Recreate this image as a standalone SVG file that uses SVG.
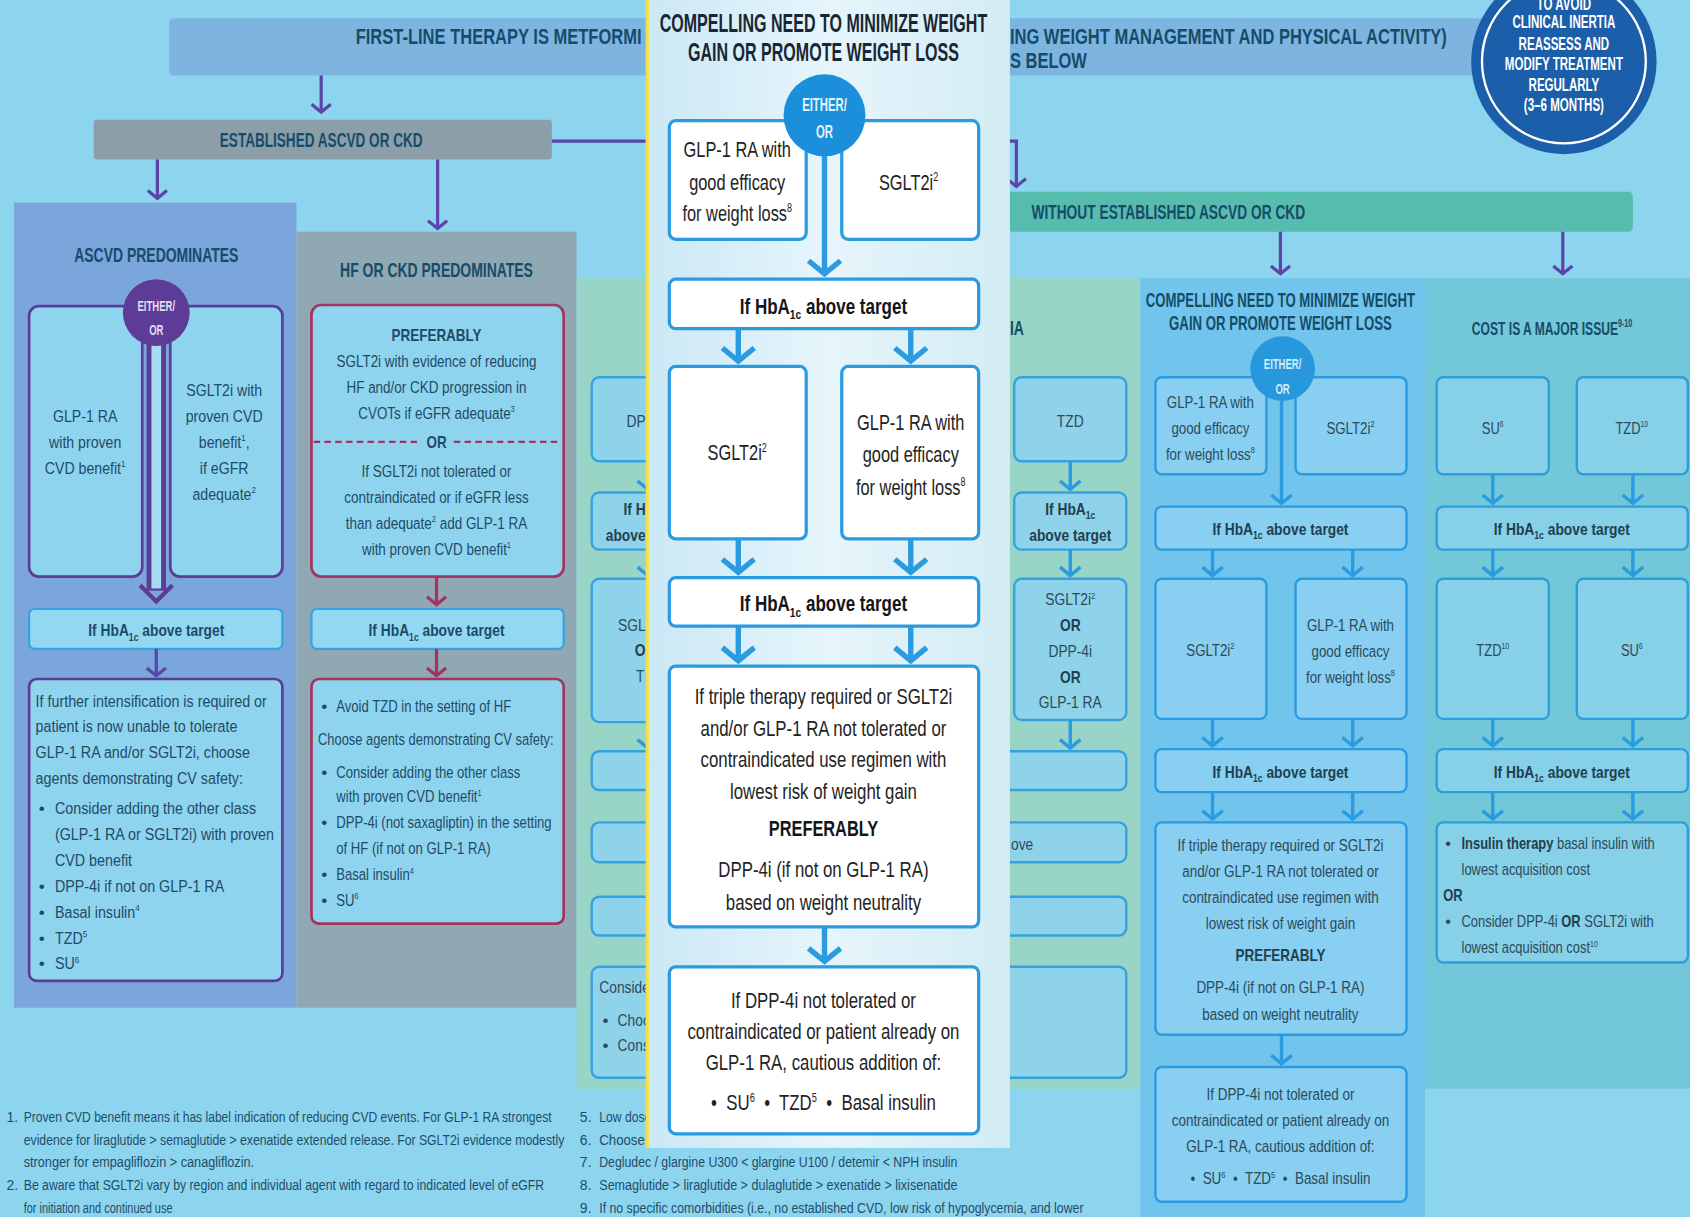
<svg xmlns="http://www.w3.org/2000/svg" width="1690" height="1217" viewBox="0 0 1690 1217">
<defs>
<style>
text{font-family:"Liberation Sans",Arial,sans-serif}
.m{text-anchor:middle}
.e{text-anchor:end}
.hd{font-weight:700;fill:#164c69;font-size:18px}
.bl{fill:#1e4b66;font-size:16px}
.bb{fill:#1e4b66;font-size:16px;font-weight:700}
.gt{fill:#2c4a5a;font-size:16px}
.gb{fill:#22404f;font-size:16px;font-weight:700}
.in{fill:#232323;font-size:20px}
.inb{fill:#161616;font-size:20px;font-weight:700}
.wt{fill:#fff;font-weight:700}
.fn{fill:#1f4d68;font-size:13px}
.pbox{fill:#8fd4ee;stroke:#5b3d99;stroke-width:2.5}
.cbox{fill:#8fd4ee;stroke:#a3345f;stroke-width:2.5}
.hb{fill:#93d8f3;stroke:#34a3e0;stroke-width:2}
.gbox{fill:#8fd3ea;stroke:#33a2df;stroke-width:2.2}
.ibox{fill:#fff;stroke:#2a9be0;stroke-width:3}
.rbox{fill:#88cff1;stroke:#2a9be0;stroke-width:2.2}
.kbox{fill:#86d0e8;stroke:#2d9fd8;stroke-width:2.2}
.cp{stroke:#5a46a8;stroke-width:3;fill:none;marker-end:url(#aP)}
.cc{stroke:#a3345f;stroke-width:3;fill:none;marker-end:url(#aC)}
.cb{stroke:#2a9be0;stroke-width:3.2;fill:none;marker-end:url(#aB)}
.ci{stroke:#2a9be0;stroke-width:5;fill:none;marker-end:url(#aB)}
</style>
<marker id="aP" viewBox="0 0 14 26" refX="11" refY="13" markerWidth="3.8" markerHeight="7" orient="auto" markerUnits="strokeWidth"><path d="M2,2 L11,13 L2,24" fill="none" stroke="#5a46a8" stroke-width="3.7"/></marker>
<marker id="aC" viewBox="0 0 14 26" refX="11" refY="13" markerWidth="3.8" markerHeight="7" orient="auto" markerUnits="strokeWidth"><path d="M2,2 L11,13 L2,24" fill="none" stroke="#a3345f" stroke-width="3.7"/></marker>
<marker id="aB" viewBox="0 0 14 26" refX="11" refY="13" markerWidth="3.8" markerHeight="7" orient="auto" markerUnits="strokeWidth"><path d="M2,2 L11,13 L2,24" fill="none" stroke="#2a9be0" stroke-width="3.7"/></marker>
<linearGradient id="ig" x1="0" x2="1" y1="0" y2="0"><stop offset="0" stop-color="#cbe8f6"/><stop offset=".5" stop-color="#e6f5fb"/><stop offset="1" stop-color="#d3ecf3"/></linearGradient>
</defs>
<rect width="1690" height="1217" fill="#8dd4ee"/>
<g transform="scale(1.077806)">

<g id="panels">
<rect x="13" y="188" width="262" height="747" fill="#7aa6dc"/>
<rect x="275" y="215" width="260" height="720" fill="#8fa8b4"/>
<rect x="535" y="258" width="523" height="752" fill="#98d5c6"/>
<rect x="1058" y="258" width="264" height="871" fill="#71c4eb"/>
<rect x="1322" y="258" width="246" height="752" fill="#72c7d9"/>
</g>

<g id="n-first-line">
<rect x="157" y="17" width="1240" height="53" rx="4" fill="#7db5e0"/>
<text class="hd" style="font-size:21px" transform="translate(330 41) scale(.73 1)">FIRST-LINE THERAPY IS METFORMI</text>
<text class="hd" style="font-size:21px" transform="translate(937 41) scale(.73 1)">ING WEIGHT MANAGEMENT AND PHYSICAL ACTIVITY)</text>
<text class="hd" style="font-size:21px" transform="translate(937 63) scale(.73 1)">S BELOW</text>
</g>

<g id="n-inertia">
<circle cx="1451" cy="57" r="86" fill="#1b5ea9"/>
<circle cx="1451" cy="57" r="76" fill="none" stroke="#fff" stroke-width="2.2"/>
<text class="wt m" style="font-size:17px" transform="translate(1451 9) scale(.63 1)">TO AVOID</text>
<text class="wt m" style="font-size:17px" transform="translate(1451 26) scale(.63 1)">CLINICAL INERTIA</text>
<text class="wt m" style="font-size:17px" transform="translate(1451 46) scale(.63 1)">REASSESS AND</text>
<text class="wt m" style="font-size:17px" transform="translate(1451 65) scale(.63 1)">MODIFY TREATMENT</text>
<text class="wt m" style="font-size:17px" transform="translate(1451 84) scale(.63 1)">REGULARLY</text>
<text class="wt m" style="font-size:17px" transform="translate(1451 103) scale(.63 1)">(3–6 MONTHS)</text>
</g>

<g id="n-established">
<rect x="87" y="111" width="425" height="37" rx="3" fill="#8c9fa9"/>
<text class="hd m" transform="translate(298 136) scale(.7 1)">ESTABLISHED ASCVD OR CKD</text>
</g>

<g id="n-without">
<rect x="900" y="178" width="615" height="37" rx="4" fill="#56bdae"/>
<text class="hd" transform="translate(957 203) scale(.71 1)">WITHOUT ESTABLISHED ASCVD OR CKD</text>
</g>

<g id="n-ascvd">
<text class="hd m" transform="translate(145 243) scale(.72 1)">ASCVD PREDOMINATES</text>
<g id="n-ascvd-glp">
<rect x="27" y="284" width="105" height="251" rx="9" class="pbox"/>
<text class="bl m" transform="translate(79 391.5) scale(.82 1)">GLP-1 RA</text>
<text class="bl m" transform="translate(79 415.5) scale(.82 1)">with proven</text>
<text class="bl m" transform="translate(79 439.5) scale(.82 1)">CVD benefit<tspan dy="-6" font-size="9">1</tspan></text>
</g>
<g id="n-ascvd-sglt">
<rect x="158" y="284" width="104" height="251" rx="9" class="pbox"/>
<text class="bl m" transform="translate(208 367.5) scale(.82 1)">SGLT2i with</text>
<text class="bl m" transform="translate(208 391.5) scale(.82 1)">proven CVD</text>
<text class="bl m" transform="translate(208 415.5) scale(.82 1)">benefit<tspan dy="-6" font-size="9">1</tspan><tspan dy="6">,</tspan></text>
<text class="bl m" transform="translate(208 439.5) scale(.82 1)">if eGFR</text>
<text class="bl m" transform="translate(208 463.5) scale(.82 1)">adequate<tspan dy="-6" font-size="9">2</tspan></text>
</g>
<g id="n-ascvd-hba">
<rect x="27" y="565" width="235" height="37" rx="5" class="hb"/>
<text class="bb m" transform="translate(145 590.5) scale(.8 1)">If HbA<tspan font-size="10" dy="4">1c</tspan><tspan dy="-4"> above target</tspan></text>
</g>
<g id="n-ascvd-next">
<rect x="27" y="630" width="235" height="280" rx="7" class="pbox"/>
<text class="bl" transform="translate(33 655.5) scale(.83 1)">If further intensification is required or</text>
<text class="bl" transform="translate(33 679.5) scale(.83 1)">patient is now unable to tolerate</text>
<text class="bl" transform="translate(33 703.5) scale(.83 1)">GLP-1 RA and/or SGLT2i, choose</text>
<text class="bl" transform="translate(33 727.5) scale(.83 1)">agents demonstrating CV safety:</text>
<text class="bl" x="36" y="755.5">•</text>
<text class="bl" transform="translate(51 755.5) scale(.83 1)">Consider adding the other class</text>
<text class="bl" transform="translate(51 779.5) scale(.83 1)">(GLP-1 RA or SGLT2i) with proven</text>
<text class="bl" transform="translate(51 803.5) scale(.83 1)">CVD benefit</text>
<text class="bl" x="36" y="827.5">•</text>
<text class="bl" transform="translate(51 827.5) scale(.83 1)">DPP-4i if not on GLP-1 RA</text>
<text class="bl" x="36" y="851.5">•</text>
<text class="bl" transform="translate(51 851.5) scale(.83 1)">Basal insulin<tspan dy="-6" font-size="9">4</tspan></text>
<text class="bl" x="36" y="875.5">•</text>
<text class="bl" transform="translate(51 875.5) scale(.83 1)">TZD<tspan dy="-6" font-size="9">5</tspan></text>
<text class="bl" x="36" y="899.5">•</text>
<text class="bl" transform="translate(51 899.5) scale(.83 1)">SU<tspan dy="-6" font-size="9">6</tspan></text>
</g>
</g>

<g id="n-hf">
<text class="hd m" transform="translate(405 257) scale(.72 1)">HF OR CKD PREDOMINATES</text>
<g id="n-hf-pref">
<rect x="289" y="283" width="234" height="252" rx="9" class="cbox"/>
<text class="bb m" transform="translate(405 316.5) scale(.78 1)">PREFERABLY</text>
<text class="bl m" transform="translate(405 340.5) scale(.78 1)">SGLT2i with evidence of reducing</text>
<text class="bl m" transform="translate(405 364.5) scale(.78 1)">HF and/or CKD progression in</text>
<text class="bl m" transform="translate(405 388.5) scale(.78 1)">CVOTs if eGFR adequate<tspan dy="-6" font-size="9">3</tspan></text>
<path d="M291 410H389M421 410H521" stroke="#a3345f" stroke-width="2" stroke-dasharray="6 4" fill="none"/>
<text class="bb m" transform="translate(405 415.5) scale(.78 1)">OR</text>
<text class="bl m" transform="translate(405 442.5) scale(.78 1)">If SGLT2i not tolerated or</text>
<text class="bl m" transform="translate(405 466.5) scale(.78 1)">contraindicated or if eGFR less</text>
<text class="bl m" transform="translate(405 490.5) scale(.78 1)">than adequate<tspan dy="-6" font-size="9">2</tspan><tspan dy="6"> add GLP-1 RA</tspan></text>
<text class="bl m" transform="translate(405 514.5) scale(.78 1)">with proven CVD benefit<tspan dy="-6" font-size="9">1</tspan></text>
</g>
<g id="n-hf-hba">
<rect x="289" y="565" width="234" height="37" rx="5" class="hb"/>
<text class="bb m" transform="translate(405 590.5) scale(.8 1)">If HbA<tspan font-size="10" dy="4">1c</tspan><tspan dy="-4"> above target</tspan></text>
</g>
<g id="n-hf-next">
<rect x="289" y="630" width="234" height="227" rx="7" class="cbox"/>
<text class="bl" x="298" y="660.5">•</text>
<text class="bl" transform="translate(312 660.5) scale(.76 1)">Avoid TZD in the setting of HF</text>
<text class="bl" transform="translate(295 691.5) scale(.75 1)">Choose agents demonstrating CV safety:</text>
<text class="bl" x="298" y="721.5">•</text>
<text class="bl" transform="translate(312 721.5) scale(.76 1)">Consider adding the other class</text>
<text class="bl" transform="translate(312 744.5) scale(.76 1)">with proven CVD benefit<tspan dy="-6" font-size="9">1</tspan></text>
<text class="bl" x="298" y="768.5">•</text>
<text class="bl" transform="translate(312 768.5) scale(.76 1)">DPP-4i (not saxagliptin) in the setting</text>
<text class="bl" transform="translate(312 792.5) scale(.76 1)">of HF (if not on GLP-1 RA)</text>
<text class="bl" x="298" y="816.5">•</text>
<text class="bl" transform="translate(312 816.5) scale(.76 1)">Basal insulin<tspan dy="-6" font-size="9">4</tspan></text>
<text class="bl" x="298" y="840.5">•</text>
<text class="bl" transform="translate(312 840.5) scale(.76 1)">SU<tspan dy="-6" font-size="9">6</tspan></text>
</g>
</g>

<g id="n-hypo">
<text class="hd" transform="translate(937 311) scale(.72 1)">IA</text>
<g id="n-hypo-dpp"><rect x="549" y="350" width="104" height="78" rx="7" class="gbox"/><text class="gt e" transform="translate(599 396.5) scale(.8 1)">DP</text></g>
<g id="n-hypo-hba1"><rect x="549" y="457" width="104" height="53" rx="7" class="gbox"/><text class="gb e" transform="translate(599 477.5) scale(.8 1)">If H</text><text class="gb e" transform="translate(599 501.5) scale(.8 1)">above</text></g>
<g id="n-hypo-sglt"><rect x="549" y="537" width="104" height="133" rx="7" class="gbox"/><text class="gt e" transform="translate(599 585.5) scale(.8 1)">SGL</text><text class="gb e" transform="translate(599 608.5) scale(.8 1)">O</text><text class="gt e" transform="translate(598 632.5) scale(.8 1)">T</text></g>
<g id="n-hypo-tzd"><rect x="941" y="350" width="104" height="78" rx="7" class="gbox"/><text class="gt m" transform="translate(993 396.5) scale(.8 1)">TZD</text></g>
<g id="n-hypo-hba2"><rect x="941" y="457" width="104" height="53" rx="7" class="gbox"/><text class="gb m" transform="translate(993 477.5) scale(.8 1)">If HbA<tspan font-size="10" dy="4">1c</tspan></text><text class="gb m" transform="translate(993 501.5) scale(.8 1)">above target</text></g>
<g id="n-hypo-opts"><rect x="941" y="537" width="104" height="131" rx="7" class="gbox"/>
<text class="gt m" transform="translate(993 561.5) scale(.8 1)">SGLT2i<tspan dy="-6" font-size="9">2</tspan></text>
<text class="gb m" transform="translate(993 585.5) scale(.8 1)">OR</text>
<text class="gt m" transform="translate(993 609.5) scale(.8 1)">DPP-4i</text>
<text class="gb m" transform="translate(993 633.5) scale(.8 1)">OR</text>
<text class="gt m" transform="translate(993 656.5) scale(.8 1)">GLP-1 RA</text></g>
<g id="n-hypo-w1"><rect x="549" y="697" width="496" height="36" rx="7" class="gbox"/></g>
<g id="n-hypo-w2"><rect x="549" y="763" width="496" height="37" rx="7" class="gbox"/><text class="gt" transform="translate(938 788.5) scale(.8 1)">ove</text></g>
<g id="n-hypo-w3"><rect x="549" y="832" width="496" height="36" rx="7" class="gbox"/></g>
<g id="n-hypo-w4"><rect x="549" y="897" width="496" height="103" rx="7" class="gbox"/>
<text class="gt" transform="translate(556 921.5) scale(.8 1)">Conside</text>
<text class="gt" x="559" y="951.5">•</text><text class="gt" transform="translate(573 951.5) scale(.8 1)">Choo</text>
<text class="gt" x="559" y="975.5">•</text><text class="gt" transform="translate(573 975.5) scale(.8 1)">Cons</text></g>
</g>

<g id="n-weight">
<text class="hd m" transform="translate(1188 284.5) scale(.68 1)">COMPELLING NEED TO MINIMIZE WEIGHT</text>
<text class="hd m" transform="translate(1188 306.5) scale(.68 1)">GAIN OR PROMOTE WEIGHT LOSS</text>
<g id="n-w-glp"><rect x="1072" y="350" width="103" height="90" rx="6" class="rbox"/>
<text class="gt m" transform="translate(1123 378.5) scale(.77 1)">GLP-1 RA with</text>
<text class="gt m" transform="translate(1123 402.5) scale(.77 1)">good efficacy</text>
<text class="gt m" transform="translate(1123 426.5) scale(.77 1)">for weight loss<tspan dy="-6" font-size="9">8</tspan></text></g>
<g id="n-w-sglt"><rect x="1202" y="350" width="103" height="90" rx="6" class="rbox"/>
<text class="gt m" transform="translate(1253 402.5) scale(.77 1)">SGLT2i<tspan dy="-6" font-size="9">2</tspan></text></g>
<g id="n-w-hba1"><rect x="1072" y="470" width="233" height="40" rx="6" class="rbox"/>
<text class="gb m" transform="translate(1188 496.5) scale(.8 1)">If HbA<tspan font-size="10" dy="4">1c</tspan><tspan dy="-4"> above target</tspan></text></g>
<g id="n-w-sglt2"><rect x="1072" y="537" width="103" height="130" rx="6" class="rbox"/>
<text class="gt m" transform="translate(1123 608.5) scale(.77 1)">SGLT2i<tspan dy="-6" font-size="9">2</tspan></text></g>
<g id="n-w-glp2"><rect x="1202" y="537" width="103" height="130" rx="6" class="rbox"/>
<text class="gt m" transform="translate(1253 585.5) scale(.77 1)">GLP-1 RA with</text>
<text class="gt m" transform="translate(1253 609.5) scale(.77 1)">good efficacy</text>
<text class="gt m" transform="translate(1253 633.5) scale(.77 1)">for weight loss<tspan dy="-6" font-size="9">8</tspan></text></g>
<g id="n-w-hba2"><rect x="1072" y="695" width="233" height="40" rx="6" class="rbox"/>
<text class="gb m" transform="translate(1188 721.5) scale(.8 1)">If HbA<tspan font-size="10" dy="4">1c</tspan><tspan dy="-4"> above target</tspan></text></g>
<g id="n-w-triple"><rect x="1072" y="763" width="233" height="197" rx="6" class="rbox"/>
<text class="gt m" transform="translate(1188 789.5) scale(.78 1)">If triple therapy required or SGLT2i</text>
<text class="gt m" transform="translate(1188 813.5) scale(.78 1)">and/or GLP-1 RA not tolerated or</text>
<text class="gt m" transform="translate(1188 837.5) scale(.78 1)">contraindicated use regimen with</text>
<text class="gt m" transform="translate(1188 861.5) scale(.78 1)">lowest risk of weight gain</text>
<text class="gb m" transform="translate(1188 891.5) scale(.78 1)">PREFERABLY</text>
<text class="gt m" transform="translate(1188 921.5) scale(.78 1)">DPP-4i (if not on GLP-1 RA)</text>
<text class="gt m" transform="translate(1188 946.5) scale(.78 1)">based on weight neutrality</text></g>
<g id="n-w-dpp"><rect x="1072" y="990" width="233" height="125" rx="6" class="rbox"/>
<text class="gt m" transform="translate(1188 1020.5) scale(.78 1)">If DPP-4i not tolerated or</text>
<text class="gt m" transform="translate(1188 1044.5) scale(.78 1)">contraindicated or patient already on</text>
<text class="gt m" transform="translate(1188 1068.5) scale(.78 1)">GLP-1 RA, cautious addition of:</text>
<text class="gt m" xml:space="preserve" transform="translate(1188 1098.5) scale(.78 1)">•  SU<tspan dy="-6" font-size="9">6</tspan><tspan dy="6">  •  TZD</tspan><tspan dy="-6" font-size="9">5</tspan><tspan dy="6">  •  Basal insulin</tspan></text></g>
</g>

<g id="n-cost">
<text class="hd m" style="font-size:17px" transform="translate(1440 310.5) scale(.66 1)">COST IS A MAJOR ISSUE<tspan dy="-7" font-size="10">9-10</tspan></text>
<g id="n-c-su"><rect x="1333" y="350" width="104" height="90" rx="6" class="kbox"/><text class="gt m" style="font-size:15px" transform="translate(1385 402.5) scale(.8 1)">SU<tspan dy="-6" font-size="8">6</tspan></text></g>
<g id="n-c-tzd"><rect x="1463" y="350" width="103" height="90" rx="6" class="kbox"/><text class="gt m" style="font-size:15px" transform="translate(1514 402.5) scale(.8 1)">TZD<tspan dy="-6" font-size="8">10</tspan></text></g>
<g id="n-c-hba1"><rect x="1333" y="470" width="233" height="40" rx="6" class="kbox"/>
<text class="gb m" transform="translate(1449 496.5) scale(.8 1)">If HbA<tspan font-size="10" dy="4">1c</tspan><tspan dy="-4"> above target</tspan></text></g>
<g id="n-c-tzd2"><rect x="1333" y="537" width="104" height="130" rx="6" class="kbox"/><text class="gt m" style="font-size:15px" transform="translate(1385 608.5) scale(.8 1)">TZD<tspan dy="-6" font-size="8">10</tspan></text></g>
<g id="n-c-su2"><rect x="1463" y="537" width="103" height="130" rx="6" class="kbox"/><text class="gt m" style="font-size:15px" transform="translate(1514 608.5) scale(.8 1)">SU<tspan dy="-6" font-size="8">6</tspan></text></g>
<g id="n-c-hba2"><rect x="1333" y="695" width="233" height="40" rx="6" class="kbox"/>
<text class="gb m" transform="translate(1449 721.5) scale(.8 1)">If HbA<tspan font-size="10" dy="4">1c</tspan><tspan dy="-4"> above target</tspan></text></g>
<g id="n-c-insulin"><rect x="1333" y="763" width="233" height="130" rx="6" class="kbox"/>
<text class="gt" style="font-size:15px" x="1341" y="787.5">•</text>
<text class="gt" style="font-size:15px" transform="translate(1356 787.5) scale(.8 1)"><tspan font-weight="700" fill="#22404f">Insulin therapy</tspan> basal insulin with</text>
<text class="gt" style="font-size:15px" transform="translate(1356 811.5) scale(.8 1)">lowest acquisition cost</text>
<text class="gb" style="font-size:15px" transform="translate(1339 835.5) scale(.8 1)">OR</text>
<text class="gt" style="font-size:15px" x="1341" y="860.5">•</text>
<text class="gt" style="font-size:15px" transform="translate(1356 860.5) scale(.8 1)">Consider DPP-4i <tspan font-weight="700" fill="#22404f">OR</tspan> SGLT2i with</text>
<text class="gt" style="font-size:15px" transform="translate(1356 884.5) scale(.8 1)">lowest acquisition cost<tspan dy="-6" font-size="8">10</tspan></text></g>
</g>

<g id="footnotes">
<text class="fn" x="6" y="1041">1.</text>
<text class="fn" transform="translate(22 1041) scale(.78 1)" textLength="628" lengthAdjust="spacingAndGlyphs">Proven CVD benefit means it has label indication of reducing CVD events. For GLP-1 RA strongest</text>
<text class="fn" transform="translate(22 1062) scale(.78 1)" textLength="643" lengthAdjust="spacingAndGlyphs">evidence for liraglutide &gt; semaglutide &gt; exenatide extended release. For SGLT2i evidence modestly</text>
<text class="fn" transform="translate(22 1083) scale(.78 1)" textLength="274" lengthAdjust="spacingAndGlyphs">stronger for empagliflozin &gt; canagliflozin.</text>
<text class="fn" x="6" y="1104">2.</text>
<text class="fn" transform="translate(22 1104) scale(.78 1)" textLength="619" lengthAdjust="spacingAndGlyphs">Be aware that SGLT2i vary by region and individual agent with regard to indicated level of eGFR</text>
<text class="fn" transform="translate(22 1125) scale(.78 1)" textLength="177" lengthAdjust="spacingAndGlyphs">for initiation and continued use</text>
<text class="fn" x="538" y="1041">5.</text>
<text class="fn" transform="translate(556 1041) scale(.78 1)" textLength="62" lengthAdjust="spacingAndGlyphs">Low dose</text>
<text class="fn" x="538" y="1062">6.</text>
<text class="fn" transform="translate(556 1062) scale(.78 1)" textLength="62" lengthAdjust="spacingAndGlyphs">Choose l</text>
<text class="fn" x="538" y="1083">7.</text>
<text class="fn" transform="translate(556 1083) scale(.78 1)" textLength="426" lengthAdjust="spacingAndGlyphs">Degludec / glargine U300 &lt; glargine U100 / detemir &lt; NPH insulin</text>
<text class="fn" x="538" y="1104">8.</text>
<text class="fn" transform="translate(556 1104) scale(.78 1)" textLength="426" lengthAdjust="spacingAndGlyphs">Semaglutide &gt; liraglutide &gt; dulaglutide &gt; exenatide &gt; lixisenatide</text>
<text class="fn" x="538" y="1125">9.</text>
<text class="fn" transform="translate(556 1125) scale(.78 1)" textLength="576" lengthAdjust="spacingAndGlyphs">If no specific comorbidities (i.e., no established CVD, low risk of hypoglycemia, and lower</text>
</g>

<g id="connectors">
<path class="cp" d="M298 70V104"/>
<path class="cp" d="M146 148V184"/>
<path class="cp" d="M406 148V212"/>
<path class="cp" d="M512 131H943V173"/>
<path class="cp" d="M1188 215V254"/>
<path class="cp" d="M1450 215V254"/>
<rect x="136" y="318" width="18" height="230" fill="#5d3c97"/>
<rect x="140.5" y="318" width="9" height="228" fill="#a6dbf2"/>
<path d="M130 543L145 558L160 543" fill="none" stroke="#5d3c97" stroke-width="4"/>
<path class="cp" d="M145 602V627"/>
<path class="cc" d="M405 535V561"/>
<path class="cc" d="M405 602V627"/>
<path class="cb" d="M601 428V454"/>
<path class="cb" d="M601 510V534"/>
<path class="cb" d="M601 670V694"/>
<path class="cb" d="M993 428V454"/>
<path class="cb" d="M993 510V534"/>
<path class="cb" d="M993 668V694"/>
<path class="cb" d="M1189 372V467"/>
<path class="cb" d="M1125 510V534"/>
<path class="cb" d="M1255 510V534"/>
<path class="cb" d="M1125 667V692"/>
<path class="cb" d="M1255 667V692"/>
<path class="cb" d="M1125 735V760"/>
<path class="cb" d="M1255 735V760"/>
<path class="cb" d="M1189 960V987"/>
<path class="cb" d="M1385 440V467"/>
<path class="cb" d="M1515 440V467"/>
<path class="cb" d="M1385 510V534"/>
<path class="cb" d="M1515 510V534"/>
<path class="cb" d="M1385 667V692"/>
<path class="cb" d="M1515 667V692"/>
<path class="cb" d="M1385 735V760"/>
<path class="cb" d="M1515 735V760"/>
</g>

<g id="n-ascvd-either">
<circle cx="145" cy="290" r="31" fill="#5d3c97"/>
<text class="wt m" style="font-size:13px;fill:#e2dcf3" transform="translate(145 288.5) scale(.68 1)">EITHER/</text>
<text class="wt m" style="font-size:13px;fill:#e2dcf3" transform="translate(145 310.5) scale(.68 1)">OR</text>
</g>
<g id="n-weight-either">
<circle cx="1190" cy="342" r="30" fill="#2898dc"/>
<text class="wt m" style="font-size:13px;fill:#d2ecf9" transform="translate(1190 342.5) scale(.68 1)">EITHER/</text>
<text class="wt m" style="font-size:13px;fill:#d2ecf9" transform="translate(1190 365.5) scale(.68 1)">OR</text>
</g>

<g id="inset">
<rect x="600" y="0" width="337" height="1065" fill="url(#ig)"/>
<rect x="599" y="0" width="3" height="1065" fill="#f0e04a"/>
<text class="inb m" style="font-size:24px;fill:#1a2633" transform="translate(764 29.5) scale(.62 1)">COMPELLING NEED TO MINIMIZE WEIGHT</text>
<text class="inb m" style="font-size:24px;fill:#1a2633" transform="translate(764 56.5) scale(.62 1)">GAIN OR PROMOTE WEIGHT LOSS</text>
<g id="i-glp"><rect x="621" y="112" width="127" height="110" rx="6" class="ibox"/>
<text class="in m" transform="translate(684 146) scale(.76 1)">GLP-1 RA with</text>
<text class="in m" transform="translate(684 176) scale(.76 1)">good efficacy</text>
<text class="in m" transform="translate(684 205) scale(.76 1)">for weight loss<tspan dy="-8" font-size="11">8</tspan></text></g>
<g id="i-sglt"><rect x="781" y="112" width="127" height="110" rx="6" class="ibox"/>
<text class="in m" transform="translate(843 176) scale(.76 1)">SGLT2i<tspan dy="-8" font-size="11">2</tspan></text></g>
<g id="i-hba1"><rect x="621" y="259" width="287" height="46" rx="6" class="ibox"/>
<text class="inb m" transform="translate(764 291) scale(.79 1)">If HbA<tspan font-size="12" dy="5">1c</tspan><tspan dy="-5"> above target</tspan></text></g>
<g id="i-sglt2"><rect x="621" y="340" width="127" height="160" rx="6" class="ibox"/>
<text class="in m" transform="translate(684 427) scale(.76 1)">SGLT2i<tspan dy="-8" font-size="11">2</tspan></text></g>
<g id="i-glp2"><rect x="781" y="340" width="127" height="160" rx="6" class="ibox"/>
<text class="in m" transform="translate(845 399) scale(.76 1)">GLP-1 RA with</text>
<text class="in m" transform="translate(845 429) scale(.76 1)">good efficacy</text>
<text class="in m" transform="translate(845 459) scale(.76 1)">for weight loss<tspan dy="-8" font-size="11">8</tspan></text></g>
<g id="i-hba2"><rect x="621" y="536" width="287" height="45" rx="6" class="ibox"/>
<text class="inb m" transform="translate(764 567) scale(.79 1)">If HbA<tspan font-size="12" dy="5">1c</tspan><tspan dy="-5"> above target</tspan></text></g>
<g id="i-triple"><rect x="621" y="618" width="287" height="242" rx="6" class="ibox"/>
<text class="in m" transform="translate(764 653) scale(.78 1)">If triple therapy required or SGLT2i</text>
<text class="in m" transform="translate(764 683) scale(.78 1)">and/or GLP-1 RA not tolerated or</text>
<text class="in m" transform="translate(764 712) scale(.78 1)">contraindicated use regimen with</text>
<text class="in m" transform="translate(764 741) scale(.78 1)">lowest risk of weight gain</text>
<text class="inb m" transform="translate(764 776) scale(.76 1)">PREFERABLY</text>
<text class="in m" transform="translate(764 814) scale(.78 1)">DPP-4i (if not on GLP-1 RA)</text>
<text class="in m" transform="translate(764 844) scale(.78 1)">based on weight neutrality</text></g>
<g id="i-dpp"><rect x="621" y="897" width="287" height="155" rx="6" class="ibox"/>
<text class="in m" transform="translate(764 935) scale(.78 1)">If DPP-4i not tolerated or</text>
<text class="in m" transform="translate(764 964) scale(.78 1)">contraindicated or patient already on</text>
<text class="in m" transform="translate(764 993) scale(.78 1)">GLP-1 RA, cautious addition of:</text>
<text class="in m" xml:space="preserve" transform="translate(764 1030) scale(.78 1)">•  SU<tspan dy="-8" font-size="11">6</tspan><tspan dy="8">  •  TZD</tspan><tspan dy="-8" font-size="11">5</tspan><tspan dy="8">  •  Basal insulin</tspan></text></g>
<g id="inset-connectors">
<path class="ci" d="M765 140V254"/>
<path class="ci" d="M685 305V335"/>
<path class="ci" d="M845 305V335"/>
<path class="ci" d="M685 500V531"/>
<path class="ci" d="M845 500V531"/>
<path class="ci" d="M685 581V613"/>
<path class="ci" d="M845 581V613"/>
<path class="ci" d="M765 860V892"/>
</g>
<g id="i-either">
<circle cx="765" cy="107" r="38" fill="#1b8fd9"/>
<text class="wt m" style="font-size:17px;fill:#e3f3fc" transform="translate(765 103) scale(.62 1)">EITHER/</text>
<text class="wt m" style="font-size:17px;fill:#e3f3fc" transform="translate(765 128) scale(.62 1)">OR</text>
</g>
</g>

</g>
</svg>
